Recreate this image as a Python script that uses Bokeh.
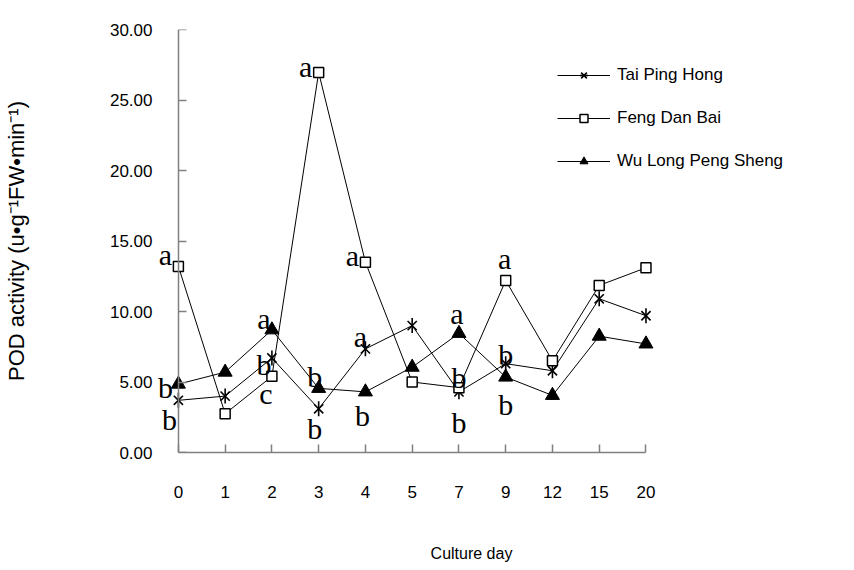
import math
from bokeh.plotting import figure
from bokeh.models import FixedTicker, PrintfTickFormatter, Legend, LegendItem, Range1d, ColumnDataSource, LinearAxis
from bokeh.core.properties import value
from bokeh.embed import file_html
from bokeh.resources import INLINE

# ---- data ----
days = ["0", "1", "2", "3", "4", "5", "7", "9", "12", "15", "20"]
tai_ping_hong = [3.7, 4.0, 6.7, 3.1, 7.35, 9.0, 4.3, 6.3, 5.8, 10.9, 9.7]
feng_dan_bai = [13.2, 2.75, 5.4, 26.95, 13.5, 5.0, 4.6, 12.2, 6.5, 11.85, 13.1]
wu_long_peng_sheng = [4.85, 5.7, 8.7, 4.55, 4.3, 6.05, 8.45, 5.35, 4.05, 8.25, 7.7]
y_ticks = [0, 5, 10, 15, 20, 25, 30]

# significance letters: text, day index, series they belong to
letter_text = ["a", "b", "b", "a", "b", "c", "a", "b", "b", "a", "a", "b", "a", "b", "b", "a", "b", "b"]
letter_day = [0, 0, 0, 2, 2, 2, 3, 3, 3, 4, 4, 4, 6, 6, 6, 7, 7, 7]
letter_series = ["F", "W", "T", "W", "T", "F", "F", "W", "T", "F", "T", "W", "W", "F", "T", "F", "T", "W"]
# pixel offsets of letters from their points (style)
letter_dx = [-13, -13, -9, -8, -8, -6, -13, -4, -4, -13, -5, -3, -2, 0, 0, -1, 0, 0]
letter_dy = [-12, 3, 19, -11, 6, 17, -6, -12, 20, -7, -12, 24, -20, -10, 31, -22, -9, 27]

series_map = {"T": tai_ping_hong, "F": feng_dan_bai, "W": wu_long_peng_sheng}
x_idx = list(range(len(days)))

# ---- layout geometry (pixels) ----
W, H = 854, 570
FRAME_L, FRAME_R = 140, 800      # drawing area (wider than axes so markers/letters are not clipped)
AXIS_X0, AXIS_X1 = 176, 645      # where first / last day sit
FRAME_T, FRAME_B = 29, 452
n = len(days) - 1
unit = (AXIS_X1 - AXIS_X0) / n
x_start = -(AXIS_X0 - FRAME_L) / unit
x_end = n + (FRAME_R - AXIS_X1) / unit

p = figure(width=W, height=H, output_backend="svg", toolbar_location=None,
           x_range=Range1d(x_start, x_end), y_range=Range1d(0, 30),
           min_border_left=FRAME_L, min_border_right=W - FRAME_R,
           min_border_top=FRAME_T, min_border_bottom=H - FRAME_B)
p.outline_line_color = None
p.xgrid.visible = False
p.ygrid.visible = False
p.background_fill_color = "white"
p.border_fill_color = "white"

AX = "#808080"

def style_axis(ax):
    ax.axis_line_color = AX
    ax.axis_line_width = 1.5
    ax.major_tick_line_color = AX
    ax.major_tick_line_width = 1.5
    ax.major_tick_in = 8
    ax.major_tick_out = 0
    ax.minor_tick_line_color = None
    ax.major_label_text_font = "Liberation Sans"
    ax.major_label_text_font_size = "17px"
    ax.major_label_text_color = "black"
    ax.axis_label_text_font = "Liberation Sans"
    ax.axis_label_text_font_style = "normal"
    ax.axis_label_text_color = "black"

style_axis(p.xaxis[0])
p.xaxis.bounds = (0, n)
p.xaxis.ticker = FixedTicker(ticks=x_idx)
p.xaxis.major_label_overrides = {i: d for i, d in enumerate(days)}
p.xaxis.major_label_standoff = 33
p.xaxis.axis_label = "Culture day"
p.xaxis.axis_label_text_font_size = "16px"
p.xaxis.axis_label_standoff = 44

# y axis labels (in the left panel, line/ticks hidden)
ya = p.yaxis[0]
style_axis(ya)
ya.axis_line_color = None
ya.major_tick_line_color = None
ya.ticker = FixedTicker(ticks=y_ticks)
ya.formatter = PrintfTickFormatter(format="%.2f")
ya.major_label_standoff = -10
ya.axis_label = "POD activity (u•g⁻¹FW•min⁻¹)"
ya.axis_label_text_font_size = "22px"
ya.axis_label_standoff = 78

# y axis line and ticks at day 0
yline = LinearAxis(fixed_location=0, ticker=FixedTicker(ticks=y_ticks))
style_axis(yline)
yline.major_label_text_font_size = "0px"
yline.major_label_text_color = None
p.add_layout(yline, "left")

# series
l1 = p.line(x_idx, tai_ping_hong, line_color="black", line_width=1)
m1a = p.scatter(x_idx, tai_ping_hong, marker="x", size=13, line_color="black", line_width=1.6)
m1b = p.scatter(x_idx, tai_ping_hong, marker="dash", size=15, angle=math.pi / 2, line_color="black", line_width=1.6)
l2 = p.line(x_idx, feng_dan_bai, line_color="black", line_width=1)
m2 = p.scatter(x_idx, feng_dan_bai, marker="square", size=10, fill_color="white", line_color="black", line_width=1.5)
l3 = p.line(x_idx, wu_long_peng_sheng, line_color="black", line_width=1)
m3 = p.scatter(x_idx, wu_long_peng_sheng, marker="triangle", size=14, fill_color="black", line_color="black")

legend = Legend(items=[
    LegendItem(label="Tai Ping Hong", renderers=[l1, m1a, m1b]),
    LegendItem(label="Feng Dan Bai", renderers=[l2, m2]),
    LegendItem(label="Wu Long Peng Sheng", renderers=[l3, m3]),
], location=(555 - FRAME_L, FRAME_B - 171))
legend.border_line_color = None
legend.background_fill_alpha = 0
legend.padding = 0
legend.margin = 0
legend.spacing = 23
legend.glyph_width = 53
legend.glyph_height = 20
legend.label_height = 20
legend.label_standoff = 7
legend.label_text_font = "Liberation Sans"
legend.label_text_font_size = "17px"
legend.label_text_color = "black"
p.add_layout(legend, "center")

# letters
ly = [series_map[s][d] for s, d in zip(letter_series, letter_day)]
src = ColumnDataSource(dict(x=letter_day, y=ly, t=letter_text, dx=letter_dx, dy=letter_dy))
p.text(x="x", y="y", text="t", x_offset="dx", y_offset="dy", source=src,
       text_font=value("Liberation Serif"), text_font_size="30px", text_color="black",
       text_align="center", text_baseline="middle")

open("out.html", "w").write(file_html(p, INLINE))
